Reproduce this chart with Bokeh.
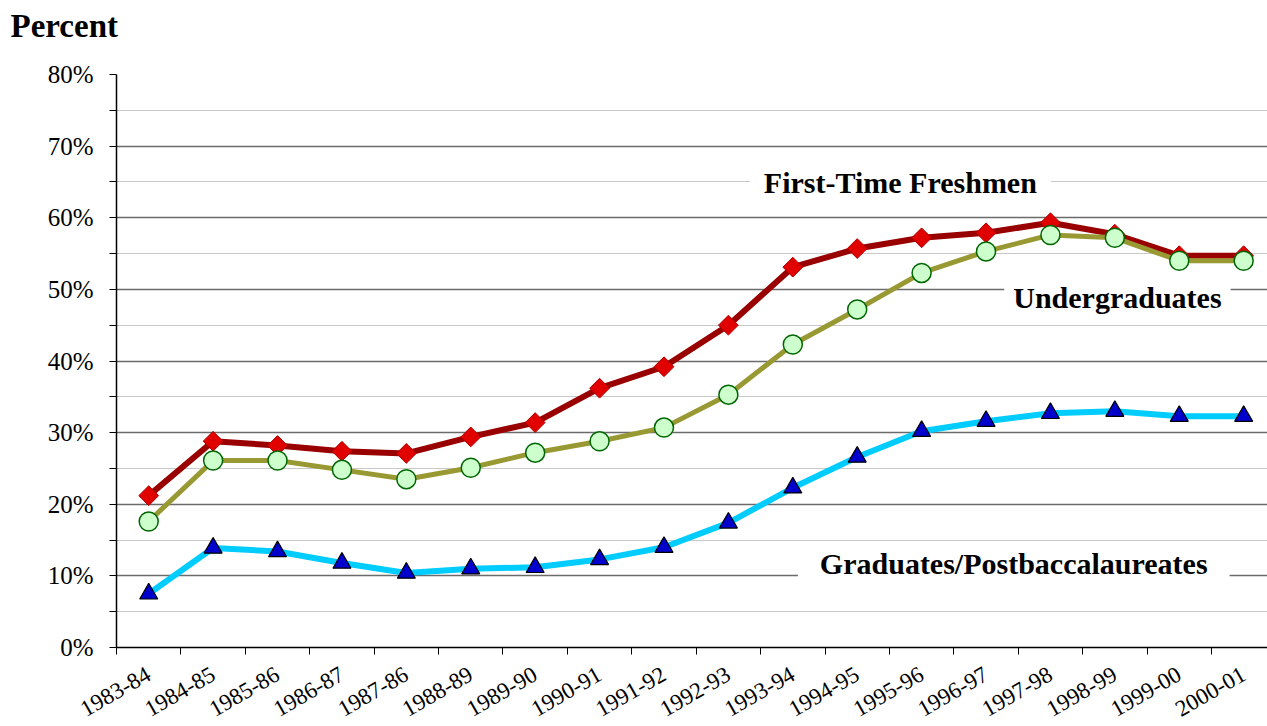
import math
from bokeh.plotting import figure
from bokeh.models import Range1d, FixedTicker, PrintfTickFormatter, Label, CustomJSTickFormatter, Title
from bokeh.embed import file_html
from bokeh.resources import INLINE

# ---- data ----
categories = ["1983-84", "1984-85", "1985-86", "1986-87", "1987-86", "1988-89",
              "1989-90", "1990-91", "1991-92", "1992-93", "1993-94", "1994-95",
              "1995-96", "1996-97", "1997-98", "1998-99", "1999-00", "2000-01"]
freshmen = [21.2, 28.8, 28.2, 27.4, 27.1, 29.4, 31.4, 36.2, 39.2, 45.0, 53.1, 55.7,
            57.2, 57.9, 59.3, 57.7, 54.7, 54.7]
undergrads = [17.6, 26.1, 26.1, 24.8, 23.5, 25.1, 27.2, 28.8, 30.7, 35.3, 42.3, 47.2,
              52.3, 55.3, 57.6, 57.2, 54.0, 54.0]
graduates = [7.5, 13.9, 13.4, 11.8, 10.4, 11.0, 11.2, 12.3, 14.0, 17.4, 22.3, 26.6,
             30.2, 31.6, 32.7, 33.0, 32.3, 32.3]
y_major = [0, 10, 20, 30, 40, 50, 60, 70, 80]
y_minor = [5, 15, 25, 35, 45, 55, 65, 75]
series_names = ["First-Time Freshmen", "Undergraduates", "Graduates/Postbaccalaureates"]
title_text = "Percent"

xs = [i + 0.5 for i in range(len(categories))]

FONT = "Liberation Serif"

p = figure(width=1267, height=726, output_backend="svg", toolbar_location=None,
           x_range=Range1d(0, 17.87), y_range=Range1d(0, 80),
           min_border_left=116, min_border_right=0, min_border_top=74, min_border_bottom=78)
p.outline_line_color = None
p.background_fill_color = "white"
p.border_fill_color = "white"

# title: a blank spacer title next to the frame, "Percent" above it
p.add_layout(Title(text=" ", standoff=10, text_font=FONT, text_font_size="10px"), "above")
p.add_layout(Title(text=title_text, align="left", offset=-106, standoff=11,
                   vertical_align="top",
                   text_font=FONT, text_font_style="bold", text_font_size="33px",
                   text_color="black"), "above")

# grid
p.xgrid.visible = False
p.ygrid.ticker = FixedTicker(ticks=y_major, minor_ticks=y_minor)
p.ygrid.grid_line_color = "#6b6b6b"
p.ygrid.grid_line_width = 1.5
p.ygrid.minor_grid_line_color = "#c8c8c8"
p.ygrid.minor_grid_line_width = 1

# y axis
yax = p.yaxis[0]
yax.ticker = FixedTicker(ticks=y_major, minor_ticks=y_minor)
yax.formatter = PrintfTickFormatter(format="%d%%")
yax.axis_line_color = "black"
yax.axis_line_width = 1.5
yax.major_tick_out = 7
yax.major_tick_in = 0
yax.minor_tick_out = 7
yax.minor_tick_in = 0
yax.major_tick_line_color = "black"
yax.minor_tick_line_color = "black"
yax.major_label_standoff = 16
yax.major_label_text_font = FONT
yax.major_label_text_font_size = "25px"
yax.major_label_text_color = "black"

# x axis
xax = p.xaxis[0]
xax.ticker = FixedTicker(ticks=xs, minor_ticks=list(range(len(categories) + 1)))
xax.formatter = CustomJSTickFormatter(args=dict(cats=categories),
                                      code="return cats[Math.floor(tick)] || '';")
xax.axis_line_color = "black"
xax.axis_line_width = 1.5
xax.major_tick_out = 0
xax.major_tick_in = 0
xax.minor_tick_out = 7
xax.minor_tick_in = 0
xax.minor_tick_line_color = "black"
xax.major_label_orientation = math.pi / 6
xax.major_label_standoff = 18
xax.major_label_text_font = FONT
xax.major_label_text_font_size = "23px"
xax.major_label_text_color = "black"

# series
p.line(xs, freshmen, line_color="#990000", line_width=6, line_join="round")
p.scatter(xs, freshmen, marker="square", angle=math.pi / 4, size=14,
          fill_color="#e00000", line_color="#b00000", line_width=1)
p.line(xs, undergrads, line_color="#999933", line_width=5, line_join="round")
p.scatter(xs, undergrads, marker="circle", size=19,
          fill_color="#ccffcc", line_color="#006600", line_width=1.5)
p.line(xs, graduates, line_color="#00ccff", line_width=6, line_join="round")
p.scatter(xs, graduates, marker="triangle", size=18,
          fill_color="#0000cc", line_color="black", line_width=1.2)

# series labels
def add_label(x, y, text, hpad):
    p.add_layout(Label(x=x, y=y, text=text, text_font=FONT, text_font_style="bold",
                       text_font_size="30px", text_color="black", text_align="center",
                       text_baseline="alphabetic", background_fill_color="white",
                       padding=(hpad, 1)))

add_label(12.17, 64.9, series_names[0], 14)
add_label(15.54, 48.8, series_names[1], 9)
add_label(13.93, 11.7, series_names[2], 22)

open("out.html", "w").write(file_html(p, INLINE))
